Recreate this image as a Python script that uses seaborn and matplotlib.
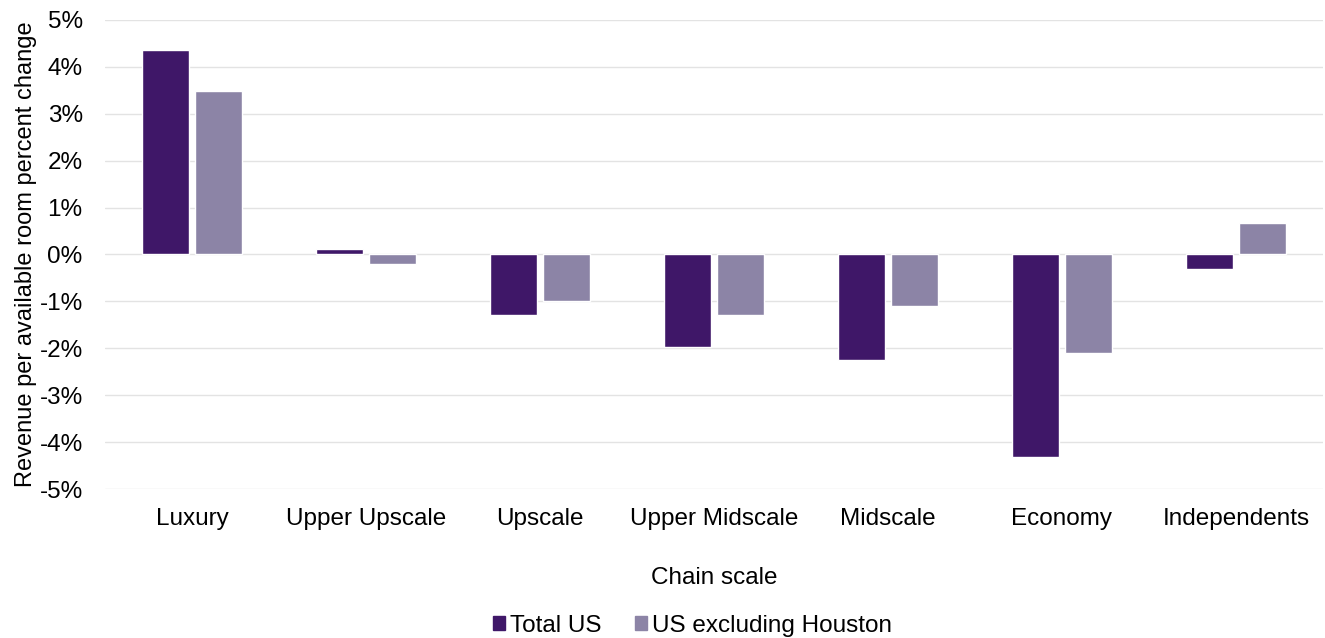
import pandas as pd
import seaborn as sns
import matplotlib.pyplot as plt
from matplotlib.ticker import FuncFormatter

# Data
categories = ['Luxury', 'Upper Upscale', 'Upscale', 'Upper Midscale',
              'Midscale', 'Economy', 'Independents']
total_us = [4.36, 0.12, -1.28, -1.97, -2.24, -4.32, -0.30]
us_ex_houston = [3.48, -0.20, -1.00, -1.30, -1.09, -2.09, 0.68]
series = ['Total US', 'US excluding Houston']
colors = ['#3F1768', '#8C84A6']

df = pd.DataFrame({
    'Chain scale': categories * 2,
    'value': total_us + us_ex_houston,
    'series': [series[0]] * len(categories) + [series[1]] * len(categories),
})

sns.set_style('white')
plt.rcParams['font.family'] = ['Liberation Sans', 'DejaVu Sans']

fig = plt.figure(figsize=(13.25, 6.38), dpi=100)
ax = fig.add_axes([0.0792, 0.2335, 0.9193, 0.7352])

sns.barplot(data=df, x='Chain scale', y='value', hue='series',
            palette=colors, width=0.61, gap=0.1, saturation=1,
            ax=ax, zorder=3, legend=False)

ax.set_ylim(-5, 5)
ax.set_yticks(range(-5, 6))
ax.yaxis.set_major_formatter(FuncFormatter(lambda v, p: f'{v:.0f}%'))
ax.grid(axis='y', color='#E3E3E3', linewidth=1, zorder=0)
for s in ax.spines.values():
    s.set_visible(False)
ax.tick_params(axis='both', length=0, labelsize=17.5, labelcolor='black')
ax.tick_params(axis='x', pad=14)
ax.tick_params(axis='y', pad=16)
ax.set_xlim(-0.5, len(categories) - 0.5)

ax.set_ylabel('Revenue per available room percent change', fontsize=17,
              labelpad=2, color='black')
ax.set_xlabel('Chain scale', fontsize=17.5, labelpad=26, color='black')

handles = [plt.Rectangle((0, 0), 1, 1, color=c) for c in colors]
fig.legend(handles, series, loc='center', bbox_to_anchor=(0.5226, 0.019), ncol=2,
           frameon=False, fontsize=17.5, handlelength=0.5, handleheight=0.5,
           handletextpad=0.2, columnspacing=1.4, borderaxespad=0, borderpad=0,
           labelcolor='black')

fig.savefig('out.png', dpi=100)
